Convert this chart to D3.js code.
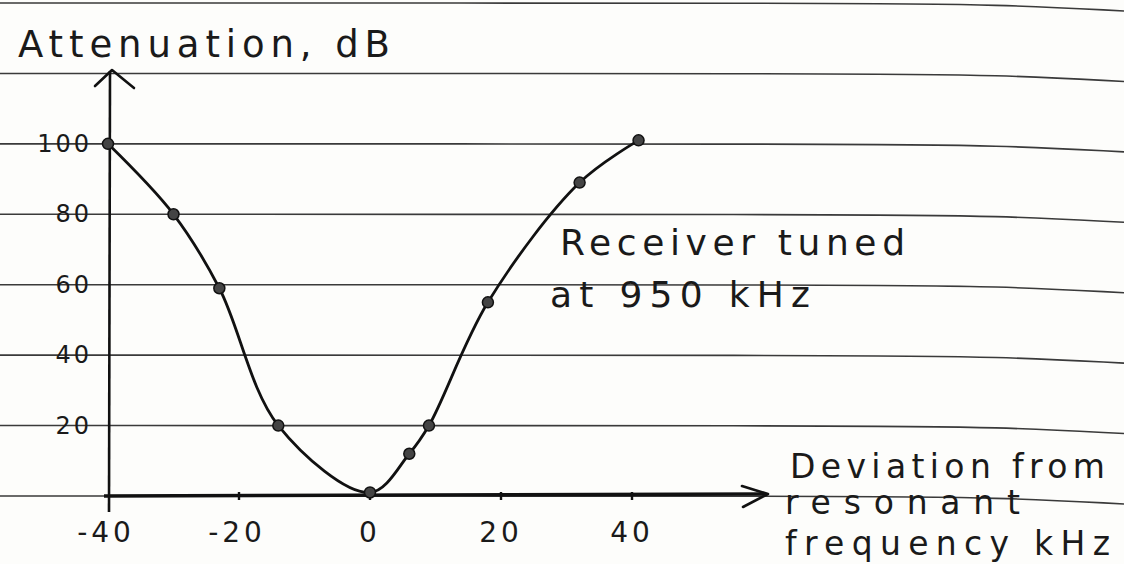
<!DOCTYPE html>
<html>
<head>
<meta charset="utf-8">
<script src="https://cdn.jsdelivr.net/npm/d3@7"></script>
<style>
  html, body { margin: 0; padding: 0; background: #fdfdfb; }
  svg { display: block; }
  text { font-family: "DejaVu Sans", sans-serif; fill: #1a1a1a; }
</style>
</head>
<body>
<svg id="chart" width="1124" height="564"></svg>
<script>
// ---- data ----
const deviationKHz = [-40, -30, -23, -14, 0, 6, 9, 18, 32, 41];
const attenuationDb = [100, 80, 59, 20, 1, 12, 20, 55, 89, 101];
const xTickValues = [-40, -20, 0, 20, 40];
const yTickValues = [20, 40, 60, 80, 100];
const ruledLineValues = [0, 20, 40, 60, 80, 100, 120, 140];
const yAxisTitle = "Attenuation, dB";
const xAxisTitle = ["Deviation from", "resonant", "frequency kHz"];
const noteLines = ["Receiver tuned", "at 950 kHz"];

const W = 1124, H = 564;
const svg = d3.select("#chart");

const x = d3.scaleLinear().domain([-40, 40]).range([108, 632]);
const y = d3.scaleLinear().domain([0, 140]).range([496, 3]);

// ---- ruled paper lines (drawn at the y grid values) ----
const rule = d3.line().curve(d3.curveBasis);
svg.append("g").selectAll("path")
  .data(ruledLineValues)
  .join("path")
  .attr("d", v => rule([[0, y(v)], [850, y(v)], [1000, y(v) + 1.5], [1124, y(v) + 8]]))
  .attr("fill", "none")
  .attr("stroke", "#3a3a3a")
  .attr("stroke-width", 1.6);

// ---- axes ----
const axisColor = "#111";
svg.append("line")
  .attr("x1", 104).attr("x2", 766)
  .attr("y1", y(0)).attr("y2", y(0) - 2)
  .attr("stroke", axisColor).attr("stroke-width", 3.4);
svg.append("path")
  .attr("d", `M742,${y(0) - 10} L768,${y(0) - 2} L743,${y(0) + 11}`)
  .attr("fill", "none").attr("stroke", axisColor).attr("stroke-width", 2.6)
  .attr("stroke-linecap", "round").attr("stroke-linejoin", "round");

svg.append("line")
  .attr("x1", 109).attr("x2", 110)
  .attr("y1", 512).attr("y2", 71)
  .attr("stroke", axisColor).attr("stroke-width", 2.6);
svg.append("path")
  .attr("d", "M95,86 L112,70 L134,88")
  .attr("fill", "none").attr("stroke", axisColor).attr("stroke-width", 2.6)
  .attr("stroke-linecap", "round").attr("stroke-linejoin", "round");

// x ticks + labels
const xg = svg.append("g");
xg.selectAll("line")
  .data(xTickValues.filter(d => d !== -40))
  .join("line")
  .attr("x1", d => x(d)).attr("x2", d => x(d))
  .attr("y1", y(0) - 4).attr("y2", y(0) + 4)
  .attr("stroke", axisColor).attr("stroke-width", 2.4);
xg.selectAll("text")
  .data(xTickValues)
  .join("text")
  .attr("x", d => x(d) - (d < 0 ? 2 : 0))
  .attr("y", 542)
  .attr("text-anchor", "middle")
  .attr("font-size", 28)
  .attr("letter-spacing", 4)
  .text(d => d < 0 ? "-" + Math.abs(d) : d);

// y labels
svg.append("g").selectAll("text")
  .data(yTickValues)
  .join("text")
  .attr("x", 92)
  .attr("y", d => y(d) + 8)
  .attr("text-anchor", "end")
  .attr("font-size", 24)
  .attr("letter-spacing", 3)
  .text(d => d);

// ---- curve ----
const pts = deviationKHz.map((d, i) => [d, attenuationDb[i]]);
const line = d3.line()
  .x(d => x(d[0]))
  .y(d => y(d[1]))
  .curve(d3.curveCatmullRom.alpha(0.5));
svg.append("path")
  .datum(pts)
  .attr("d", line)
  .attr("fill", "none")
  .attr("stroke", "#111")
  .attr("stroke-width", 2.8)
  .attr("stroke-linejoin", "round");

svg.append("g").selectAll("circle")
  .data(pts)
  .join("circle")
  .attr("cx", d => x(d[0]))
  .attr("cy", d => y(d[1]))
  .attr("r", 5.5)
  .attr("fill", "#444")
  .attr("stroke", "#111")
  .attr("stroke-width", 1.5);

// ---- titles ----
svg.append("text")
  .attr("x", 18).attr("y", 57)
  .attr("font-size", 37)
  .attr("textLength", 372)
  .attr("lengthAdjust", "spacing")
  .text(yAxisTitle);

const noteX = [560, 550], noteY = [255, 307], noteLen = [345, 260];
svg.append("g").selectAll("text")
  .data(noteLines)
  .join("text")
  .attr("x", (d, i) => noteX[i])
  .attr("y", (d, i) => noteY[i])
  .attr("font-size", 36)
  .attr("textLength", (d, i) => noteLen[i])
  .attr("lengthAdjust", "spacing")
  .text(d => d);

const axX = [790, 785, 785], axY = [478, 514, 555], axLen = [315, 235, 325];
svg.append("g").selectAll("text")
  .data(xAxisTitle)
  .join("text")
  .attr("x", (d, i) => axX[i])
  .attr("y", (d, i) => axY[i])
  .attr("font-size", 33)
  .attr("textLength", (d, i) => axLen[i])
  .attr("lengthAdjust", "spacing")
  .text(d => d);
</script>
</body>
</html>
